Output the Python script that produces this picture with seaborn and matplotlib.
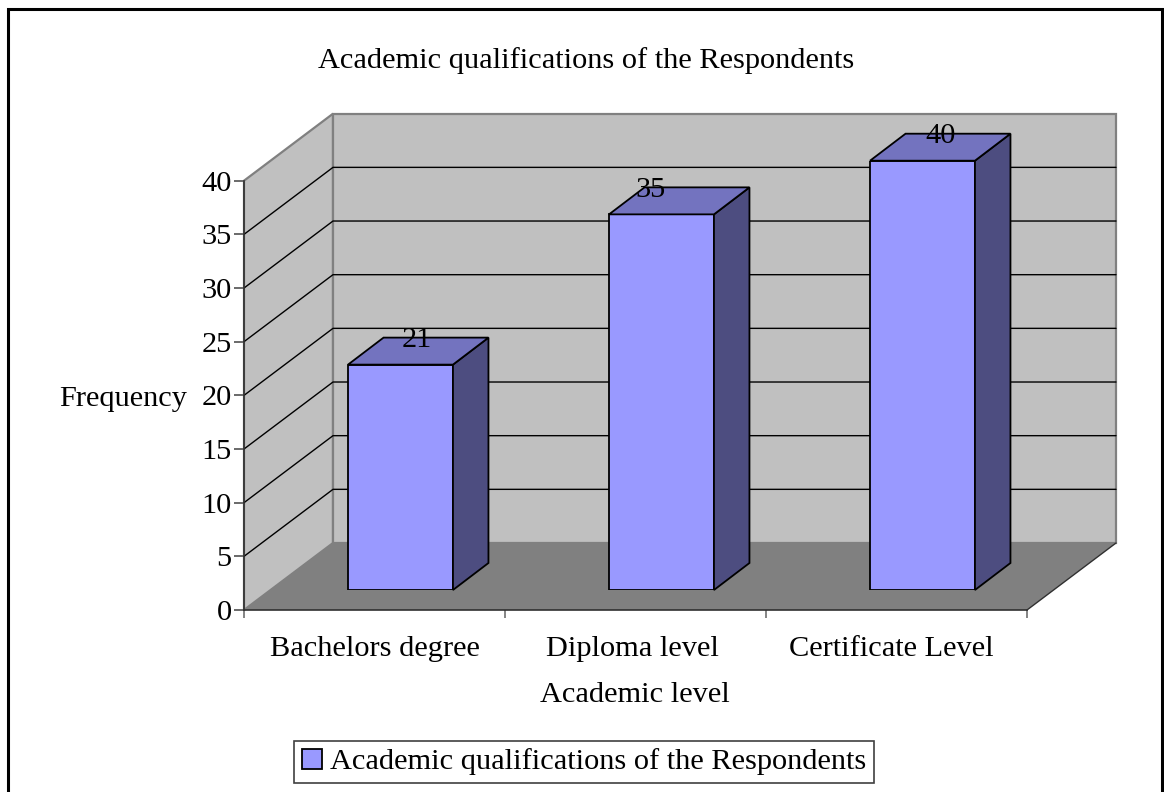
import matplotlib
matplotlib.use("Agg")
import matplotlib.pyplot as plt
from matplotlib.patches import Polygon, Rectangle
import pandas as pd
import seaborn as sns

categories = ["Bachelors degree", "Diploma level", "Certificate Level"]
frequency = [21, 35, 40]
y_ticks = [0, 5, 10, 15, 20, 25, 30, 35, 40]
series_name = "Academic qualifications of the Respondents"
# the original chart left its value labels slightly off the bars (px)
label_shift = [16, -11, 18]

W, H = 1164, 792
FS = 21.9

sns.set_theme(style="white")
plt.rcParams["font.family"] = ["Liberation Serif", "DejaVu Serif"]
plt.rcParams["font.size"] = FS
plt.rcParams["text.color"] = "black"
plt.rcParams["axes.labelcolor"] = "black"
plt.rcParams["xtick.color"] = "black"
plt.rcParams["ytick.color"] = "black"


# pixel box (top-left origin) to figure fractions
def box(left, top, right, bottom):
    return [left / W, 1 - bottom / H, (right - left) / W, (bottom - top) / H]


df = pd.DataFrame({"level": categories, "frequency": frequency})

fig = plt.figure(figsize=(W / 100, H / 100), dpi=100)
fig.patch.set_facecolor("white")

# outer frame, runs off the bottom of the picture
fig.add_artist(Rectangle((8 / W, -0.02), (1162 - 8) / W, 1.02 - 9 / H,
                         transform=fig.transFigure, fill=False,
                         edgecolor="black", linewidth=2.2))

# frame axes holds the walls, floor and the ticks
ax = fig.add_axes(box(244, 180.7, 1027, 610))
ax.patch.set_alpha(0)
ax.set_xlim(-0.5, 2.5)
ax.set_ylim(0, 40)

px_x = 783 / 3
px_y = 429.3 / 40
dx = 89 / px_x
dy = 67 / px_y
x0, x1 = -0.5, 2.5
wall = "#c0c0c0"
edge = "#808080"

ax.add_patch(Polygon([(x0, 0), (x0 + dx, dy), (x0 + dx, 40 + dy), (x0, 40)],
                     facecolor=wall, edgecolor=edge, lw=1.6, clip_on=False, zorder=1))
ax.add_patch(Polygon([(x0 + dx, dy), (x1 + dx, dy), (x1 + dx, 40 + dy), (x0 + dx, 40 + dy)],
                     facecolor=wall, edgecolor=edge, lw=1.6, clip_on=False, zorder=1))
for t in y_ticks[1:-1]:
    ax.plot([x0, x0 + dx, x1 + dx], [t, t + dy, t + dy], color="black", lw=1.0,
            clip_on=False, zorder=2)
ax.add_patch(Polygon([(x0, 0), (x1, 0), (x1 + dx, dy), (x0 + dx, dy)],
                     facecolor="#808080", edgecolor="none", clip_on=False, zorder=3))
ax.plot([x1, x1 + dx], [0, dy], color="#303030", lw=1.0, clip_on=False, zorder=3)

for side in ["top", "right"]:
    ax.spines[side].set_visible(False)
for side in ["left", "bottom"]:
    ax.spines[side].set_color("#303030")
    ax.spines[side].set_linewidth(1.2)
    ax.spines[side].set_zorder(4)

ax.set_yticks(y_ticks)
ax.tick_params(axis="y", length=7, width=1.2, color="#505050", pad=2, labelsize=FS, left=True)
# labels sit slightly left of the category centres in the original
ax.set_xticks([0, 0.99, 1.98])
ax.set_xticklabels(categories)
ax.set_xticks([-0.5, 0.5, 1.5, 2.5], minor=True)
ax.tick_params(axis="x", which="major", length=0, pad=18.5, labelsize=FS)
ax.tick_params(axis="x", which="minor", length=6, width=1.2, color="#707070", bottom=True)

ax.set_xlabel("Academic level", fontsize=FS)
ax.xaxis.set_label_coords((634.5 - 244) / 783, (610 - 695) / 429.3)
ax.xaxis.label.set_va("center")
ax.set_ylabel("Frequency", fontsize=FS, rotation=0, ha="center", va="center")
ax.yaxis.set_label_coords((123.5 - 244) / 783, (610 - 399) / 429.3)

fig.text(586 / W, 1 - 61 / H, series_name, ha="center", va="center", fontsize=FS, color="black")

# bars sit a bit behind the front plane, so they get their own shifted axes
ax_bars = fig.add_axes(box(244 + 26, 180.7 - 20, 1027 + 26, 610 - 20))
ax_bars.patch.set_alpha(0)
sns.barplot(data=df, x="level", y="frequency", ax=ax_bars, color="#9999ff", saturation=1,
            width=0.402, edgecolor="black", linewidth=1.3, label=series_name)
ax_bars.set_xlim(-0.5, 2.5)
ax_bars.set_ylim(0, 40)
ax_bars.axis("off")

bar_dx = 35.5 / px_x
bar_dy = 27 / px_y
for bar, shift, val in zip(ax_bars.patches, label_shift, frequency):
    left = bar.get_x()
    right = left + bar.get_width()
    top = bar.get_height()
    ax_bars.add_patch(Polygon([(right, 0), (right + bar_dx, bar_dy), (right + bar_dx, top + bar_dy), (right, top)],
                              facecolor="#4d4d80", edgecolor="black", lw=1.3, clip_on=False, zorder=3))
    ax_bars.add_patch(Polygon([(left, top), (right, top), (right + bar_dx, top + bar_dy), (left + bar_dx, top + bar_dy)],
                              facecolor="#7373bf", edgecolor="black", lw=1.3, clip_on=False, zorder=3))
    ax_bars.annotate(str(val), ((left + right) / 2, top), xytext=(shift * 0.72, 24.5 * 0.72),
                     textcoords="offset points", ha="center", va="center",
                     fontsize=FS, color="black", zorder=5, annotation_clip=False)

leg = ax_bars.legend(loc="center", bbox_to_anchor=(584 / W, 1 - 762 / H),
                     bbox_transform=fig.transFigure, frameon=True, fancybox=False,
                     framealpha=1, edgecolor="#404040", fontsize=FS, handlelength=0.66,
                     handleheight=0.66, handletextpad=0.25, borderpad=0.25, borderaxespad=0)
leg.get_frame().set_linewidth(1.2)

fig.savefig("out.png", dpi=100)
